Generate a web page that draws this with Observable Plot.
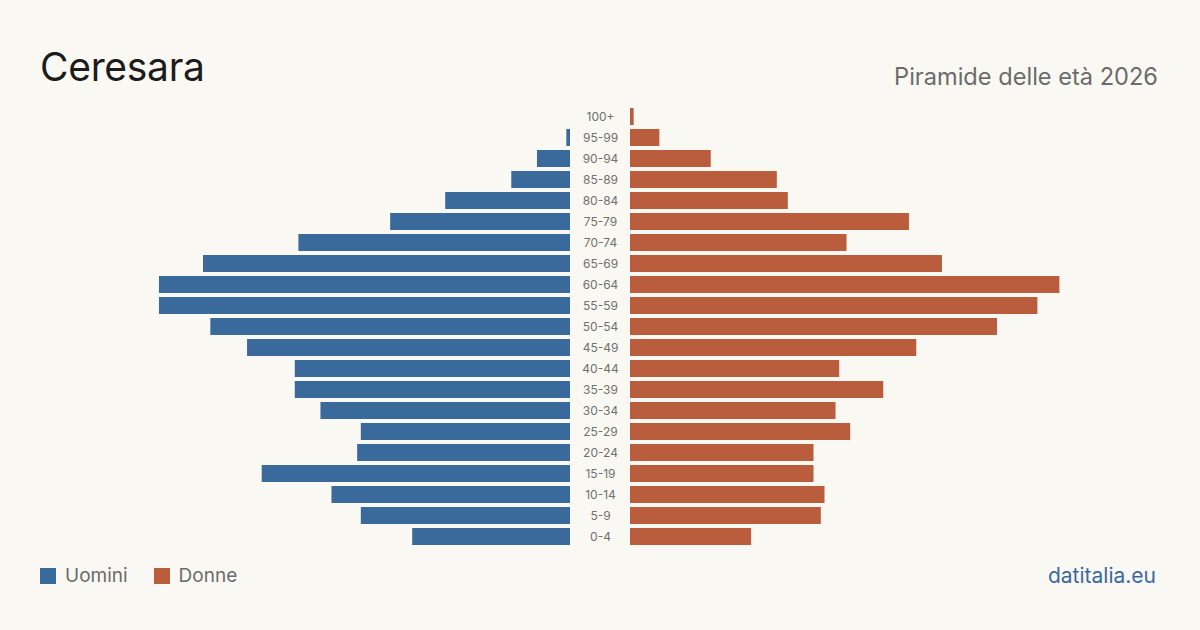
<!DOCTYPE html>
<html lang="it">
<head>
<meta charset="utf-8">
<title>Ceresara – Piramide delle età 2026</title>
<script src="https://cdn.jsdelivr.net/npm/d3@7"></script>
<script src="https://cdn.jsdelivr.net/npm/@observablehq/plot@0.6"></script>
<style>
  html, body { margin: 0; padding: 0; background: #faf8f3; }
  #page {
    position: relative; width: 1200px; height: 630px; overflow: hidden;
    background: #faf8f3; font-family: Inter, "Noto Sans", sans-serif;
  }
  .title { position: absolute; left: 40px; top: 47px; font-size: 39px; line-height: 39px; color: #1c1c1c; letter-spacing: -0.3px; }
  .subtitle { position: absolute; right: 42px; top: 64.5px; font-size: 23.6px; line-height: 23.6px; color: #6b6b6b; }
  #chart { position: absolute; left: 0; top: 100px; }
  .legend { position: absolute; left: 40px; top: 566px; display: flex; align-items: center; font-size: 19px; line-height: 19px; color: #6b6b6b; }
  .legend .sw { width: 16px; height: 16px; margin-right: 9px; }
  .legend .item { display: flex; align-items: center; margin-right: 26px; }
  .source { position: absolute; right: 44px; top: 565px; font-size: 21px; line-height: 21px; color: #3a6a9b; }
</style>
</head>
<body>
<div id="page">
  <div class="title">Ceresara</div>
  <div class="subtitle">Piramide delle età 2026</div>
  <div id="chart"></div>
  <div class="legend" id="legend"></div>
  <div class="source">datitalia.eu</div>
</div>
<script>
// Age classes, oldest first (top of the pyramid)
const ageGroups = ["100+", "95-99", "90-94", "85-89", "80-84", "75-79", "70-74", "65-69",
  "60-64", "55-59", "50-54", "45-49", "40-44", "35-39", "30-34", "25-29",
  "20-24", "15-19", "10-14", "5-9", "0-4"];

// Residents per age class
const uomini = [0, 1, 9, 16, 34, 49, 74, 100, 112, 112, 98, 88, 75, 75, 68, 57, 58, 84, 65, 57, 43];
const donne  = [1, 8, 22, 40, 43, 76, 59, 85, 117, 111, 100, 78, 57, 69, 56, 60, 50, 50, 53, 52, 33];

const seriesNames = ["Uomini", "Donne"];
const seriesColors = ["#3a6a9b", "#b95d3d"];

const rows = ageGroups.map((age, i) => ({age, uomini: uomini[i], donne: donne[i]}));

const D = 150;          // half-extent of the value axis
const gap = 30;         // space kept free around the centre for the age labels

const chart = Plot.plot({
  width: 1200,
  height: 453,
  marginTop: 4,
  marginBottom: 4,
  marginLeft: 49.5,
  marginRight: 49.5,
  style: {background: "transparent", fontFamily: "Inter, 'Noto Sans', sans-serif"},
  x: {domain: [-D, D], axis: null},
  y: {domain: ageGroups, padding: 0.19, axis: null},
  marks: [
    Plot.barX(rows, {y: "age", x1: 0, x2: d => -d.uomini, dx: -gap, fill: seriesColors[0]}),
    Plot.barX(rows, {y: "age", x1: 0, x2: d => d.donne, dx: gap, fill: seriesColors[1]}),
    Plot.text(rows, {y: "age", x: 0, text: "age", fontSize: 12, fill: "#707070"})
  ]
});
document.getElementById("chart").appendChild(chart);

// Legend
const legend = document.getElementById("legend");
seriesNames.forEach((name, i) => {
  const item = document.createElement("div");
  item.className = "item";
  const sw = document.createElement("div");
  sw.className = "sw";
  sw.style.background = seriesColors[i];
  const label = document.createElement("span");
  label.textContent = name;
  item.appendChild(sw);
  item.appendChild(label);
  legend.appendChild(item);
});
</script>
</body>
</html>
